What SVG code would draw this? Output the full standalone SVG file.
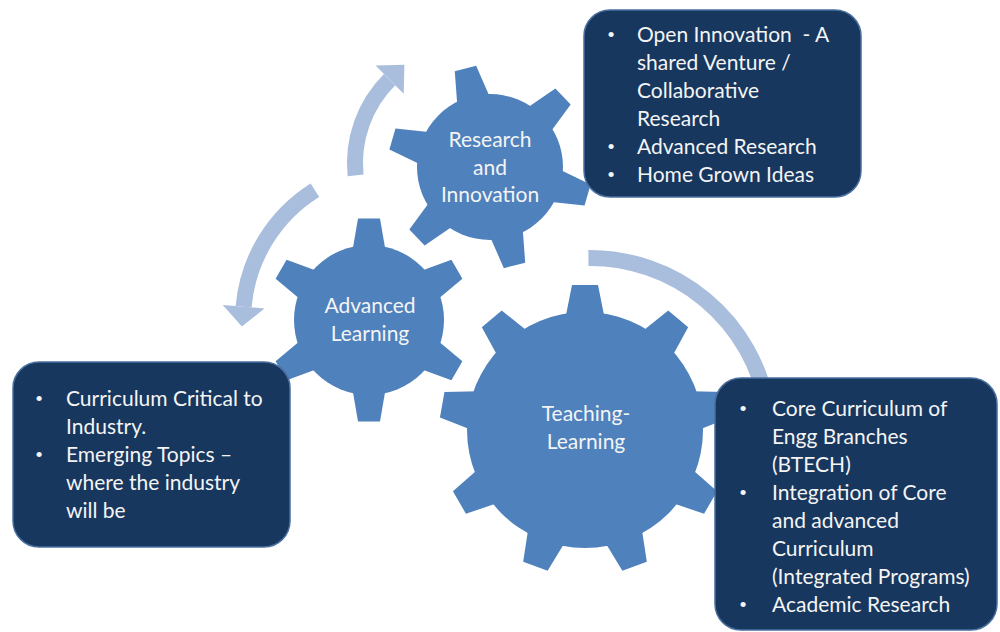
<svg xmlns="http://www.w3.org/2000/svg" width="1000" height="632" viewBox="0 0 1000 632">
<style>
.gear{fill:#4f81bd}
.arc{fill:none;stroke:#a9bddc;stroke-width:16}
.head{fill:#a9bddc}
.box{fill:#17375e;stroke:#4a6f9e;stroke-width:1.5}
.gt{font-family:Lato,"Liberation Sans",sans-serif;font-size:21px;fill:#f4f4f4;text-anchor:middle}
.bt{font-family:Lato,"Liberation Sans",sans-serif;font-size:21px;fill:#f4f4f4}
.bu{font-family:"Liberation Sans",sans-serif;font-size:19px;fill:#f4f4f4;text-anchor:middle}
</style>
<defs>
<polygon id="tS" points="55,-19 101.5,-11 101.5,11 55,19"/>
<polygon id="tL" points="100,-22 145,-13 145,13 100,22"/>
</defs>
<rect width="1000" height="632" fill="#ffffff"/>
<g id="connectors">
<path class="arc" d="M 355.6 175.3 A 118 118 0 0 1 389.6 79.6"/>
<polygon class="head" points="375.5,65.5 404.4,64.8 403.7,93.7"/>
<path class="arc" d="M 314.9 190.2 A 153 153 0 0 0 243.6 306.7"/>
<polygon class="head" points="222.7,304.9 241.9,326.6 264.5,308.5"/>
<path class="arc" d="M 588.4 258 A 180 180 0 0 1 767.3 406.7"/>
</g>
<g id="gear-research">
<g class="gear" transform="translate(490,167)">
<circle r="73"/>
<use href="#tS" transform="rotate(-104)"/>
<use href="#tS" transform="rotate(-44)"/>
<use href="#tS" transform="rotate(16)"/>
<use href="#tS" transform="rotate(76)"/>
<use href="#tS" transform="rotate(136)"/>
<use href="#tS" transform="rotate(196)"/>
</g>
<text class="gt" x="490" y="147">Research</text>
<text class="gt" x="490" y="175">and</text>
<text class="gt" x="490" y="202">Innovation</text>
</g>
<g id="gear-advanced">
<g class="gear" transform="translate(369,320)">
<circle r="75"/>
<use href="#tS" transform="rotate(-90)"/>
<use href="#tS" transform="rotate(-30)"/>
<use href="#tS" transform="rotate(30)"/>
<use href="#tS" transform="rotate(90)"/>
<use href="#tS" transform="rotate(150)"/>
<use href="#tS" transform="rotate(210)"/>
</g>
<text class="gt" x="370" y="313">Advanced</text>
<text class="gt" x="370" y="341">Learning</text>
</g>
<g id="gear-teaching">
<g class="gear" transform="translate(585,430)">
<circle r="118"/>
<use href="#tL" transform="rotate(-90)"/>
<use href="#tL" transform="rotate(-50)"/>
<use href="#tL" transform="rotate(-10)"/>
<use href="#tL" transform="rotate(30)"/>
<use href="#tL" transform="rotate(70)"/>
<use href="#tL" transform="rotate(110)"/>
<use href="#tL" transform="rotate(150)"/>
<use href="#tL" transform="rotate(190)"/>
<use href="#tL" transform="rotate(230)"/>
</g>
<text class="gt" x="586" y="421">Teaching-</text>
<text class="gt" x="586" y="449">Learning</text>
</g>
<g id="box-research">
<rect class="box" x="584" y="10" width="277" height="187" rx="26"/>
<text class="bu" x="611" y="41">•</text>
<text class="bu" x="611" y="153">•</text>
<text class="bu" x="611" y="181">•</text>
<text class="bt" x="637" y="42">Open Innovation&#160; - A</text>
<text class="bt" x="637" y="70">shared Venture /</text>
<text class="bt" x="637" y="98">Collaborative</text>
<text class="bt" x="637" y="126">Research</text>
<text class="bt" x="637" y="154">Advanced Research</text>
<text class="bt" x="637" y="182">Home Grown Ideas</text>
</g>
<g id="box-advanced">
<rect class="box" x="13" y="362" width="277" height="185" rx="26"/>
<text class="bu" x="39" y="405">•</text>
<text class="bu" x="39" y="461">•</text>
<text class="bt" x="66" y="406">Curriculum Critical to</text>
<text class="bt" x="66" y="434">Industry.</text>
<text class="bt" x="66" y="462">Emerging Topics –</text>
<text class="bt" x="66" y="490">where the industry</text>
<text class="bt" x="66" y="518">will be</text>
</g>
<g id="box-teaching">
<rect class="box" x="715" y="378" width="282" height="252" rx="26"/>
<text class="bu" x="743" y="415">•</text>
<text class="bu" x="743" y="499">•</text>
<text class="bu" x="743" y="611">•</text>
<text class="bt" x="772" y="416">Core Curriculum of</text>
<text class="bt" x="772" y="444">Engg Branches</text>
<text class="bt" x="772" y="472">(BTECH)</text>
<text class="bt" x="772" y="500">Integration of Core</text>
<text class="bt" x="772" y="528">and advanced</text>
<text class="bt" x="772" y="556">Curriculum</text>
<text class="bt" x="772" y="584">(Integrated Programs)</text>
<text class="bt" x="772" y="612">Academic Research</text>
</g>
</svg>
